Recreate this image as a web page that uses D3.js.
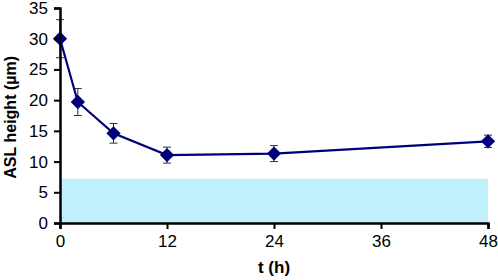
<!DOCTYPE html>
<html lang="en">
<head>
	<meta charset="UTF-8">
	<style>
	body { margin: 0; background: #fff; }
	text { font-family: "Liberation Sans", Arial, sans-serif; }
	</style>
	<script src="https://d3js.org/d3.v7.min.js"></script>
	<title>ASL height</title>
</head>
<body>
	<div id="chart"></div>
	<script>
		// Values
		const hours = [0, 2, 6, 12, 24, 48];
		const aslHeight = [30, 19.7, 14.6, 11.05, 11.3, 13.3];
		const aslError = [3.1, 2.2, 1.6, 1.3, 1.3, 1.0];
		const bandTop = 7.2;
		const xTicks = [0, 12, 24, 36, 48];
		const yTicks = [0, 5, 10, 15, 20, 25, 30, 35];

		const width = 498, height = 280;
		const margin = { top: 8, right: 10, bottom: 57, left: 60 };

		const svg = d3.select("#chart")
			.append("svg")
			.attr("width", width)
			.attr("height", height);

		const x = d3.scaleLinear()
			.domain([0, 48])
			.range([margin.left, width - margin.right]);
		const y = d3.scaleLinear()
			.domain([0, 35])
			.range([height - margin.bottom, margin.top]);

		// light blue band
		svg.append("rect")
			.attr("x", x(0))
			.attr("y", y(bandTop))
			.attr("width", x(48) - x(0))
			.attr("height", y(0) - y(bandTop))
			.style("fill", "#c0f0fc");

		// error bars
		const eb = svg.append("g")
			.selectAll("g")
			.data(hours)
			.join("g")
			.style("stroke", "#333");
		eb.append("line")
			.attr("x1", d => x(d)).attr("x2", d => x(d))
			.attr("y1", (d, i) => y(aslHeight[i] + aslError[i]))
			.attr("y2", (d, i) => y(aslHeight[i] - aslError[i]));
		eb.append("line")
			.attr("x1", d => x(d) - 4).attr("x2", d => x(d) + 4)
			.attr("y1", (d, i) => y(aslHeight[i] + aslError[i]))
			.attr("y2", (d, i) => y(aslHeight[i] + aslError[i]));
		eb.append("line")
			.attr("x1", d => x(d) - 4).attr("x2", d => x(d) + 4)
			.attr("y1", (d, i) => y(aslHeight[i] - aslError[i]))
			.attr("y2", (d, i) => y(aslHeight[i] - aslError[i]));

		// line
		const line = d3.line()
			.x((d, i) => x(hours[i]))
			.y(d => y(d));
		svg.append("path")
			.datum(aslHeight)
			.attr("d", line)
			.style("fill", "none")
			.style("stroke", "#00007a")
			.style("stroke-width", 2.2);

		// diamonds
		svg.append("g")
			.selectAll("path")
			.data(aslHeight)
			.join("path")
			.attr("d", d3.symbol().type(d3.symbolDiamond2).size(130))
			.attr("transform", (d, i) => "translate(" + x(hours[i]) + "," + y(d) + ")")
			.style("fill", "#00007a");

		// axes
		const xAxis = svg.append("g")
			.attr("transform", "translate(0," + y(0) + ")")
			.call(d3.axisBottom(x).tickValues(xTicks).tickSize(6).tickPadding(6));
		const yAxis = svg.append("g")
			.attr("transform", "translate(" + x(0) + ",0)")
			.call(d3.axisLeft(y).tickValues(yTicks).tickSize(6).tickPadding(6));

		[xAxis, yAxis].forEach(a => {
			a.select(".domain").style("stroke", "#000").style("stroke-width", 2.5);
			a.selectAll(".tick line").style("stroke", "#000").style("stroke-width", 2);
			a.selectAll(".tick text")
				.style("font-family", "'Liberation Sans', Arial, sans-serif")
				.style("font-size", "17px")
				.style("fill", "#000");
		});

		// axis titles
		svg.append("text")
			.attr("x", x(24))
			.attr("y", 273)
			.attr("text-anchor", "middle")
			.style("font-size", "17px")
			.style("font-weight", "bold")
			.text("t (h)");
		svg.append("text")
			.attr("transform", "translate(16," + y(17.2) + ") rotate(-90)")
			.attr("text-anchor", "middle")
			.style("font-size", "16px")
			.style("font-weight", "bold")
			.text("ASL height (µm)");
	</script>
</body>
</html>
